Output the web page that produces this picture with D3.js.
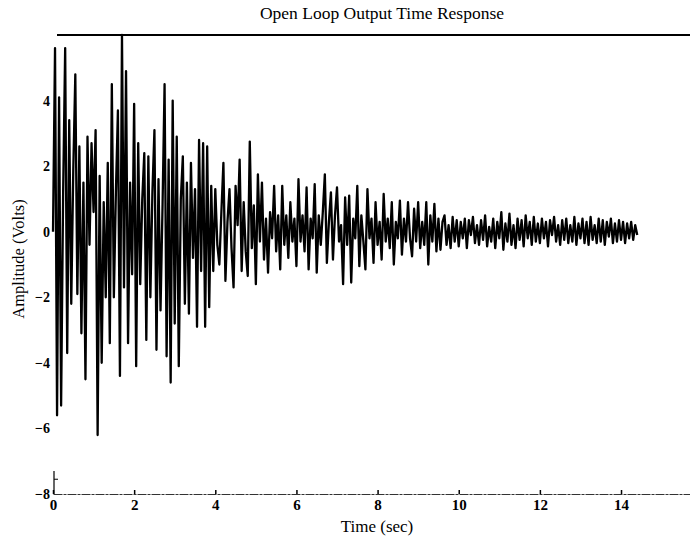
<!DOCTYPE html>
<html>
<head>
<meta charset="utf-8">
<script src="https://cdn.jsdelivr.net/npm/d3@7"></script>
<style>
  html, body { margin: 0; padding: 0; background: #fff; }
  svg { display: block; }
  text { font-family: "Liberation Serif", "DejaVu Serif", serif; fill: #000; }
</style>
</head>
<body>
<div id="chart"></div>
<script>
// ---- Data ----
const chartTitle = "Open Loop Output Time Response";
const xLabel = "Time (sec)";
const yLabel = "Amplitude (Volts)";
const sampleInterval = 0.05; // seconds between samples

const response_0_2s = [0.0, 5.6, -5.6, 4.1, -5.3, 1.2, 5.6, -3.7, 3.4, -2.2,
  1.9, 4.8, -1.9, 2.6, -3.1, 1.5, -4.5, 2.9, -0.4, 2.7,
  0.6, 3.1, -6.2, 1.7, -4.0, 0.9, -2.0, 2.1, -3.4, 4.5,
  -2.0, 1.2, 3.7, -4.4, 6.0, -1.7, 4.9, -3.4, 1.5, -1.3];
const response_2_4s = [3.9, -4.1, 2.7, -1.6, 1.0, 2.4, -3.3, 2.3, -2.0, 1.2,
  3.1, -3.6, 1.6, -2.4, 0.8, 4.5, -3.8, 2.2, -4.6, 4.0,
  -2.8, 2.9, -4.1, 1.0, 2.3, -2.2, 1.5, -2.5, 2.1, -0.8,
  1.3, -2.9, 2.8, -1.2, 2.7, -2.9, 2.6, -2.3, 1.4, -1.2];
const response_4_6s = [1.3, -0.4, -1.0, 0.6, 2.1, -1.5, 0.3, 1.3, -0.5, -1.7,
  1.4, 0.2, 2.2, -1.2, 0.9, -0.6, -1.35, 2.75, -0.5, 0.8,
  -1.6, 1.75, -0.3, 1.5, -0.85, 0.4, -1.25, 0.6, -0.2, 1.4,
  -0.6, 0.5, -1.15, 1.4, -0.4, 0.5, -0.8, 0.9, -0.3, 0.4];
const response_6_8s = [-1.05, 1.6, -0.3, 0.5, -0.6, 1.35, -1.15, 0.4, -0.2, 1.45,
  -1.25, 0.5, -0.4, 0.6, 1.75, -0.95, 0.3, 1.2, -0.85, 0.5,
  1.35, -0.3, 0.2, -1.6, 1.05, -0.4, 1.1, -1.55, 0.4, -0.2,
  1.4, -1.05, 0.5, -0.3, -1.15, 1.3, -0.2, 0.4, -0.95, 0.9];
const response_8_10s = [-0.4, 0.3, -0.85, 1.15, -0.3, 0.4, -0.5, 0.9, -1.0, 0.3,
  -0.2, 0.95, -0.7, 0.4, -0.3, 0.9, -0.2, -0.75, 0.7, -0.3,
  0.9, -0.5, 0.3, -0.4, 0.9, -1.0, 0.5, -0.3, 0.85, -0.6,
  0.4, -0.55, 0.3, 0.5, -0.4, 0.2, -0.5, 0.45, -0.3, 0.35];
const response_10_12s = [-0.45, 0.3, -0.2, 0.4, -0.5, 0.35, -0.1, 0.45, -0.35, 0.2,
  -0.4, 0.35, -0.25, 0.5, -0.45, 0.15, -0.3, 0.4, -0.5, 0.3,
  -0.2, 0.6, -0.55, 0.25, -0.3, 0.55, -0.4, 0.2, -0.5, 0.4,
  -0.25, 0.35, -0.45, 0.5, -0.2, 0.3, -0.4, 0.45, -0.3, 0.25];
const response_12_14_4s = [-0.35, 0.4, -0.2, 0.3, -0.45, 0.35, -0.1, 0.45, -0.3, 0.2,
  -0.4, 0.35, -0.25, 0.4, -0.35, 0.2, -0.3, 0.45, -0.4, 0.25,
  -0.2, 0.4, -0.35, 0.3, -0.4, 0.45, -0.25, 0.2, -0.35, 0.4,
  -0.3, 0.35, -0.4, 0.3, -0.15, 0.4, -0.35, 0.25, -0.3, 0.35,
  -0.25, 0.3, -0.35, 0.25, -0.2, 0.3, -0.25, 0.2, -0.1];

const xTickValues = [0, 2, 4, 6, 8, 10, 12, 14];
const yTickValues = [4, 2, 0, -2, -4, -6, -8];
const xDomain = [0, 15.7];
const yDomain = [-8, 6];

// ---- Build series ----
const amplitudes = [].concat(response_0_2s, response_2_4s, response_4_6s,
  response_6_8s, response_8_10s, response_10_12s, response_12_14_4s);
const series = amplitudes.map((v, i) => ({ t: i * sampleInterval, v }));

// ---- Layout ----
const W = 690, H = 537;
const svg = d3.select("#chart").append("svg")
  .attr("width", W).attr("height", H);

const x = d3.scaleLinear().domain(xDomain).range([53, 690]);
const y = d3.scaleLinear().domain(yDomain).range([494, 35]);

// Title
svg.append("text")
  .attr("x", 382).attr("y", 19)
  .attr("text-anchor", "middle")
  .style("font-size", "17.5px")
  .text(chartTitle);

// Top border line
svg.append("line")
  .attr("x1", 57).attr("x2", W)
  .attr("y1", y(6)).attr("y2", y(6))
  .attr("stroke", "#000").attr("stroke-width", 2);

// Bottom axis
const xAxis = d3.axisBottom(x)
  .tickValues(xTickValues)
  .tickSizeInner(-4).tickSizeOuter(0)
  .tickPadding(5)
  .tickFormat(d3.format("d"));
const gx = svg.append("g")
  .attr("transform", `translate(0,${y(-8)})`)
  .call(xAxis);
gx.select(".domain")
  .attr("stroke", "#333").attr("stroke-width", 1)
  .attr("stroke-dasharray", "9,1,3,1");
gx.selectAll(".tick line").attr("stroke", "#000").attr("stroke-width", 1.5);
gx.selectAll(".tick text")
  .style("font-size", "15px").style("font-weight", "bold");

// Left axis (labels only, the plot has no visible vertical axis line)
const yAxis = d3.axisLeft(y)
  .tickValues(yTickValues)
  .tickSize(0).tickPadding(3)
  .tickFormat(d3.format("d"));
const gy = svg.append("g")
  .attr("transform", `translate(${x(0)},0)`)
  .call(yAxis);
gy.select(".domain").remove();
gy.selectAll(".tick text")
  .style("font-size", "14px").style("font-weight", "bold");

// small stub of the vertical axis at the bottom-left corner
svg.append("line")
  .attr("x1", x(0) + 1).attr("x2", x(0) + 1)
  .attr("y1", y(-7.3)).attr("y2", y(-8))
  .attr("stroke", "#000").attr("stroke-width", 1.2);
svg.append("line")
  .attr("x1", x(0) + 1).attr("x2", x(0) + 5)
  .attr("y1", y(-7.55)).attr("y2", y(-7.55))
  .attr("stroke", "#000").attr("stroke-width", 1);

// Axis titles
svg.append("text")
  .attr("x", 377).attr("y", 532)
  .attr("text-anchor", "middle")
  .style("font-size", "17px")
  .text(xLabel);
svg.append("text")
  .attr("transform", "translate(24,259) rotate(-90)")
  .attr("text-anchor", "middle")
  .style("font-size", "16.5px")
  .text(yLabel);

// Signal
const line = d3.line().x(d => x(d.t)).y(d => y(d.v));
svg.append("path")
  .datum(series)
  .attr("d", line)
  .attr("fill", "none")
  .attr("stroke", "#000")
  .attr("stroke-width", 2.3)
  .attr("stroke-linejoin", "round");
</script>
</body>
</html>
